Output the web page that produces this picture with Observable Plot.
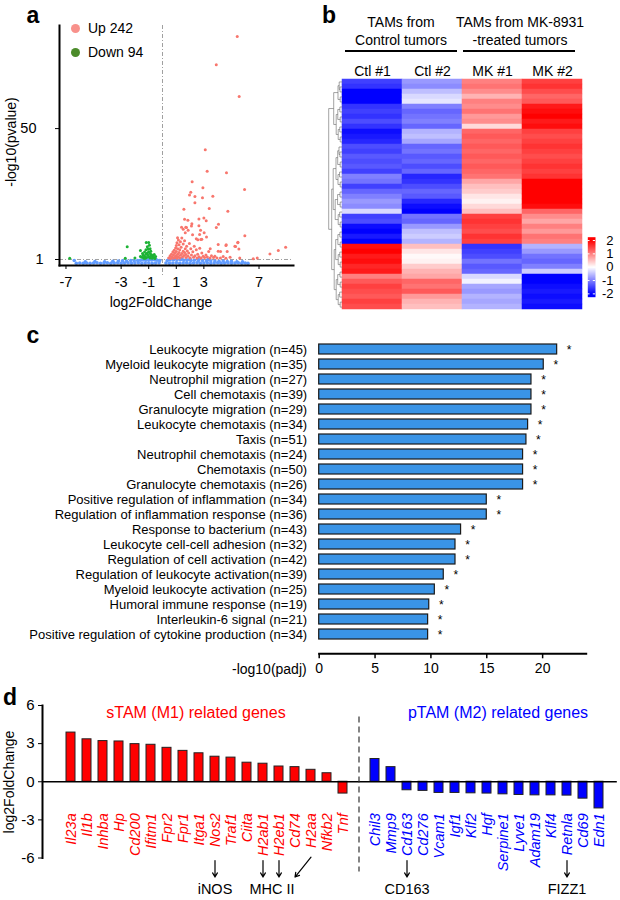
<!DOCTYPE html>
<html><head><meta charset="utf-8">
<script src="https://cdn.jsdelivr.net/npm/d3@7"></script>
<script src="https://cdn.jsdelivr.net/npm/@observablehq/plot@0.6"></script>
<style>
body{margin:0;background:#fff;}
#fig{position:relative;width:620px;height:900px;font-family:"Liberation Sans",Arial,Helvetica,sans-serif;color:#000;overflow:hidden;background:#fff}
#fig svg{position:absolute;overflow:visible}
.t{position:absolute;white-space:nowrap;line-height:1;}
</style></head><body><div id="fig"></div><script>
// ---------------- DATA ----------------
// panel a: volcano  [log2FoldChange, -log10(pvalue)]
const upGenes = [[5.42,84.5],[3.9,73.9],[5.56,62.0],[3.1,42.1],[3.24,34.0],[4.64,33.5],[2.15,30.1],[5.95,27.2],[2.93,27.9],[2.05,26.2],[1.96,25.1],[2.35,24.6],[3.65,24.7],[2.9,24.1],[2.35,22.2],[3.39,20.1],[4.74,19.1],[1.55,19.8],[1.6,16.1],[1.84,15.7],[2.64,16.2],[3.0,16.5],[3.17,15.5],[4.06,14.2],[3.9,13.0],[1.38,13.1],[1.74,13.0],[2.1,13.5],[2.64,13.6],[1.86,11.9],[1.65,11.0],[2.69,10.4],[2.18,10.3],[3.19,9.4],[2.45,8.8],[2.78,8.5],[5.97,9.9],[4.04,6.6],[4.62,6.5],[5.47,7.5],[5.25,6.0],[5.54,4.9],[4.21,4.0],[4.69,4.0],[8.93,5.6],[8.4,4.4],[7.79,3.1],[6.87,1.6],[6.58,1.3],
[1.09,9.1],[1.5,12.3],[1.69,13.1],[2.13,14.4],[2.76,11.9],[3.02,11.0],[2.56,8.4],[2.85,8.6],[3.46,5.0],[4.04,4.1],[4.6,6.2],[5.3,5.9],[5.46,7.3],
[0.45,1.6],[0.55,2.3],[0.6,1.4],[0.65,3.0],[0.7,2.0],[0.75,3.8],[0.8,1.5],[0.8,2.7],[0.85,4.5],[0.9,3.3],[0.9,1.8],[0.95,5.3],[1.0,2.4],[1.0,6.2],[1.0,4.0],[1.05,1.5],[1.05,7.3],[1.1,3.0],[1.1,5.0],[1.15,8.3],[1.15,2.0],[1.2,6.5],[1.2,3.6],[1.25,4.6],[1.25,1.6],[1.3,7.6],[1.3,2.6],[1.35,5.6],[1.4,3.2],[1.4,9.0],[1.45,1.9],[1.5,4.1],[1.5,6.8],[1.55,2.5],[1.6,3.6],[1.6,8.0],[1.65,5.0],[1.7,1.7],[1.7,2.9],[1.75,6.0],[1.8,4.2],[1.85,2.2],[1.9,3.4],[1.95,7.0],[2.0,1.6],[2.05,5.0],[2.1,2.7],[2.2,3.9],[2.25,1.8],[2.3,6.0],[2.35,2.4],[2.45,4.6],[2.5,1.6],[2.55,3.0],[2.65,2.0],[2.7,5.2],[2.8,1.6],[2.85,3.4],[2.95,2.2],[3.05,1.7],[3.15,2.7],[3.25,1.9],[3.35,4.0],[3.45,1.6],[3.55,2.4],[3.7,1.7],[3.8,2.2],[3.95,1.6],[4.2,1.6],[4.4,2.1],[4.6,1.5],[4.9,1.8],[5.6,1.6]];
const downGenes = [[-6.73,1.5],[-2.7,1.5],[-2.56,5.75],[-2.0,1.6],[-1.6,4.4],
[-1.18,7.4],[-1.0,7.4],[-1.1,5.8],[-0.95,6.3],[-1.3,3.8],[-1.2,4.6],[-1.05,4.9],[-0.9,5.0],[-0.85,4.1],[-1.4,2.6],[-1.3,2.2],[-1.2,3.0],[-1.1,3.4],[-1.0,3.9],[-0.9,3.2],[-0.8,2.8],[-0.7,2.4],[-0.65,1.8],[-0.6,2.9],[-1.5,1.8],[-1.45,3.2],[-1.35,1.5],[-1.15,1.7],[-1.0,2.0],[-0.9,1.6],[-0.75,1.5],[-0.55,1.4],[-1.05,2.6],[-0.85,2.3],[-1.25,1.5],[-1.6,2.1],[-0.5,2.1]];
const nsGenes = [[-6.4,0.6],[-6.25,-0.4],[-6.0,-0.3],[-5.75,-0.4],[-5.5,-0.3],[-5.25,-0.4],[-5.0,-0.3],[-4.75,-0.2],[-4.5,-0.4],[-4.25,-0.3],[-4.0,-0.2],[-3.75,-0.4],[-3.5,-0.3],[-3.25,-0.2],[-3.0,-0.4],[-2.75,-0.3],[-2.5,-0.2],[-2.25,-0.4],[-2.0,-0.3],[-1.75,-0.2],[-1.5,-0.4],[-1.25,-0.3],[-1.0,-0.2],[-0.75,-0.4],[-0.5,-0.3],[-0.25,-0.2],[0.25,-0.3],[0.5,-0.4],[0.75,-0.3],[1.0,-0.2],[1.25,-0.4],[1.5,-0.3],[1.75,-0.2],[2.0,-0.4],[2.25,-0.3],[2.5,-0.2],[2.75,-0.4],[3.0,-0.3],[3.25,-0.2],[3.5,-0.4],[3.75,-0.3],[4.0,-0.2],[4.25,-0.4],[4.5,-0.3],[4.75,-0.2],[5.0,-0.4],[5.25,-0.3],[5.5,-0.2],[5.75,-0.4],[6.0,-0.3],[6.2,-0.4],
[-5.6,0.1],[-4.9,0.2],[-4.2,0.1],[-3.6,0.3],[-3.2,0.4],[-2.9,0.5],[-2.6,0.4],[-2.3,0.6],[-2.05,0.5],[-1.8,0.6],[-1.6,0.7],[-1.4,0.8],[-1.2,0.7],[-1.0,0.9],[-0.8,0.8],[-0.6,0.9],[-0.4,0.7],[-0.2,0.6],[0.35,0.6],[0.55,0.8],[0.8,0.9],[1.05,0.8],[1.3,0.9],[1.55,0.7],[1.8,0.8],[2.05,0.6],[2.3,0.7],[2.6,0.5],[2.9,0.6],[3.2,0.4],[3.5,0.5],[3.8,0.4],[4.1,0.3],[4.4,0.4],[4.7,0.2],[5.0,0.3],[5.4,0.1],[5.8,0.1],
[-1.3,1.3],[-0.9,1.4],[-0.5,1.2],[0.5,1.3],[0.9,1.4],[1.4,1.3],[2.0,1.2],[2.6,1.1],[3.3,1.0]];
const volcanoXTicks = [-7,-3,-1,1,3,7];
const volcanoYTicks = [1,50];
const legendA = [{label:"Up 242", color:"#F8918B"},{label:"Down 94", color:"#4C8C2B"}];

// panel b: heatmap (row-scaled expression), rows top to bottom
const samples = ["Ctl #1","Ctl #2","MK #1","MK #2"];
const ctl1 = [-1.5,-1.6,-2.0,-2.1,-2.0,-1.6,-1.5,-1.6,-1.4,-1.6,-1.9,-1.8,-1.7,-1.4,-1.5,-1.3,-1.4,-1.3,-1.5,-1.0,-1.1,-1.5,-1.2,-1.0,-0.8,-0.9,-0.3,-1.5,-1.4,-1.9,-2.1,-1.8,-2.1, 1.9,2.0,1.8,1.9,1.7,1.8,1.0,1.3,1.5,1.4,1.3,1.5,1.4];
const ctl2 = [-0.8,-0.9,-0.5,-0.3,-0.2,-1.0,-1.2,-1.1,-1.0,-1.2,-0.6,-0.5,-0.7,-1.2,-1.1,-1.3,-1.2,-1.4,-1.2,-1.7,-1.6,-1.4,-1.2,-1.3,-1.7,-1.9,-2.1,-1.1,-1.2,-0.8,-0.5,-0.4,-0.6, 0.5,0.2,0.05,0.1,0.4,0.6,0.7,1.2,1.1,1.3,0.8,0.6,0.5];
const mk1 = [1.0,1.1,0.9,0.6,1.0,0.9,1.1,0.8,0.9,0.3,1.2,1.3,1.2,1.3,1.2,1.3,1.2,1.3,1.2,1.1,0.7,0.5,0.4,0.2,0.1,0.3,0.5,1.5,1.6,1.5,1.4,1.6,1.5, -1.6,-1.5,-1.4,-1.1,-1.3,-1.2,-0.3,-0.1,-0.7,-0.8,-0.6,-0.7,-0.6];
const mk2 = [1.5,1.6,1.4,1.2,1.3,1.8,1.9,2.0,1.8,1.9,1.5,1.4,1.5,1.6,1.5,1.4,1.5,1.6,1.5,1.6,2.0,2.1,2.0,2.1,2.0,1.9,1.2,0.9,0.7,1.0,0.8,1.1,1.0, -0.6,-0.8,-1.1,-1.2,-1.0,-0.4,-2.0,-2.1,-1.9,-1.8,-1.9,-1.8,-1.9];
// dendrogram merges: [childA, childB, height]; leaves 0..45, merges numbered from 46
const dendroMerges = [[0,1,2],[2,3,2.5],[4,5,2],[6,7,2.2],[8,9,2],[10,11,2.4],[12,13,2],[14,15,2.3],[16,17,2],[18,19,2.5],[20,21,2],[22,23,2.2],[24,25,2],[26,27,2.6],[28,29,2],[30,31,2.3],[32,61,3.2],
[33,34,2],[35,36,2.4],[37,38,2],[39,40,2.3],[41,42,2],[43,44,2.2],[45,68,3],
[46,47,4],[48,49,4.5],[50,51,4],[52,53,4.3],[54,55,4],[56,57,4.6],[58,59,4.2],[60,62,4.5],[63,64,4],[65,66,4.4],[67,69,4.2],
[70,71,6],[72,73,6.5],[74,75,7],[76,77,6.2],[78,79,6],
[81,82,8],[83,84,9],[85,80,8.5],[86,87,10.5],[89,88,13.5]];
const heatLegendTicks = [-2,-1,0,1,2];

// panel c: GO enrichment
const goTerms = ["Leukocyte migration (n=45)","Myeloid leukocyte migration (n=35)","Neutrophil migration (n=27)","Cell chemotaxis (n=39)","Granulocyte migration (n=29)","Leukocyte chemotaxis (n=34)","Taxis (n=51)","Neutrophil chemotaxis (n=24)","Chemotaxis (n=50)","Granulocyte chemotaxis (n=26)","Positive regulation of inflammation (n=34)","Regulation of inflammation response (n=36)","Response to bacterium (n=43)","Leukocyte cell-cell adhesion (n=32)","Regulation of cell activation (n=42)","Regulation of leukocyte activation(n=39)","Myeloid leukocyte activation (n=25)","Humoral immune response (n=19)","Interleukin-6 signal (n=21)","Positive regulation of cytokine production (n=34)"];
const goPadj = [21.3,20.1,19.0,19.0,19.0,18.7,18.55,18.25,18.25,18.25,15.0,15.0,12.7,12.2,12.2,11.15,10.35,9.85,9.75,9.75];
const goTicks = [0,5,10,15,20];

// panel d: marker genes
const m1Genes = ["Il23a","Il1b","Inhba","Hp","Cd200","Ifitm1","Fpr2","Fpr1","Itga1","Nos2","Traf1","Ciita","H2ab1","H2eb1","Cd74","H2aa","Nfkb2","Tnf"];
const m1LFC = [3.87,3.34,3.2,3.17,2.96,2.91,2.67,2.43,2.24,1.97,1.9,1.5,1.42,1.2,1.15,0.94,0.67,-0.93];
const m2Genes = ["Chil3","Mmp9","Cd163","Cd276","Vcam1","Igf1","Klf2","Hgf","Serpine1","Lyve1","Adam19","Klf4","Retnla","Cd69","Edn1"];
const m2LFC = [1.79,1.15,-0.67,-0.72,-0.88,-0.88,-0.91,-0.93,-0.99,-1.04,-1.07,-1.07,-1.09,-1.33,-2.1];
const lfcTicks = [-6,-3,0,3,6];
const markerNotes = [{from:"Nos2",to:"Nos2"},{from:"H2ab1",to:"H2ab1"},{from:"H2eb1",to:"H2eb1"},{from:"H2aa",to:"Cd74",diag:true},{from:"Cd163",to:"Cd163"},{from:"Retnla",to:"Retnla"}];
const markerLabels = [{gene:"Nos2",label:"iNOS"},{gene:"Cd163",label:"CD163"},{gene:"Retnla",label:"FIZZ1"}];
const mhcLabel = [{gene:"H2ab1",label:"MHC II"}];

// ---------------- HELPERS ----------------
const FONT = '"Liberation Sans", Arial, Helvetica, sans-serif';
const fig = document.getElementById("fig");
const baseStyle = {fontFamily: FONT, fontSize: "14px", color: "#000", background: "transparent", overflow: "visible"};
function put(node, left, top) { node.style.left = left + "px"; node.style.top = top + "px"; fig.appendChild(node); }
function label(text, x, y, o = {}) {
  const d = document.createElement("div");
  d.className = "t"; d.textContent = text;
  d.style.fontSize = (o.size || 14) + "px";
  if (o.bold) d.style.fontWeight = "bold";
  if (o.color) d.style.color = o.color;
  const ax = o.anchor === "start" ? "0%" : o.anchor === "end" ? "-100%" : "-50%";
  d.style.left = x + "px"; d.style.top = y + "px";
  d.style.transform = `translate(${ax},-50%)` + (o.rotate ? ` rotate(${o.rotate}deg)` : "");
  fig.appendChild(d);
}
function hline(x1, x2, y, w) {
  const d = document.createElement("div");
  d.style.cssText = `position:absolute;left:${x1}px;top:${y - w/2}px;width:${x2 - x1}px;height:${w}px;background:#000`;
  fig.appendChild(d);
}
const fmt = d => String(d);

// ---------------- PANEL A ----------------
const xa = d => d[0], ya = d => d[1];
const pa = Plot.plot({
  width: 300, height: 275, marginLeft: 59, marginRight: 7, marginTop: 25, marginBottom: 10,
  style: baseStyle,
  x: {domain: [-7.47, 9.5]},
  y: {domain: [-1.25, 88.6]},
  marks: [
    Plot.ruleX([0], {stroke: "#a0a0a0", strokeDasharray: "4,2,1,2", insetBottom: -12}),
    Plot.ruleY([1], {stroke: "#a0a0a0", strokeDasharray: "4,2,1,2"}),
    Plot.dot(nsGenes, {x: xa, y: ya, r: 1.8, fill: "#619CFF"}),
    Plot.dot(downGenes, {x: xa, y: ya, r: 1.5, fill: "#1DB335"}),
    Plot.dot(upGenes, {x: xa, y: ya, r: 1.5, fill: "#F8766D"}),
    Plot.frame({anchor: "left", strokeWidth: 2}),
    Plot.frame({anchor: "bottom", strokeWidth: 2}),
    Plot.axisX({ticks: volcanoXTicks, tickSize: 4, tickPadding: 7, tickFormat: fmt, label: null, fontSize: 14.5}),
    Plot.axisY({ticks: [volcanoYTicks[1]], tickSize: 4, tickPadding: 19, tickFormat: fmt, label: null, fontSize: 14.5}),
    Plot.axisY({ticks: [volcanoYTicks[0]], tickSize: 4, tickPadding: 12, tickFormat: fmt, label: null, fontSize: 14.5})
  ]
});
put(pa, 0, 0);
legendA.forEach((l, i) => {
  const c = document.createElement("div");
  c.style.cssText = `position:absolute;left:${75 - 4.5}px;top:${28 + i*24 - 4.5}px;width:9px;height:9px;border-radius:50%;background:${l.color}`;
  fig.appendChild(c);
  label(l.label, 88, 28 + i*24, {anchor: "start", size: 14});
});
label("-log10(pvalue)", 11, 142, {rotate: -90, size: 14});
label("log2FoldChange", 161, 302, {size: 14});
label("a", 33, 15, {bold: true, size: 23});

// ---------------- PANEL B ----------------
const heatCols = [ctl1, ctl2, mk1, mk2];
const rowIds = ctl1.map((_, i) => i);
const heatData = samples.flatMap((s, j) => heatCols[j].map((v, i) => ({sample: s, row: i, v})));
const heatColor = {type: "linear", domain: [-2, 0, 2], range: ["#0000ff", "#ffffff", "#ff0000"], clamp: true};
const pb = Plot.plot({
  width: 320, height: 320, marginLeft: 41.7, marginRight: 38.3, marginTop: 79, marginBottom: 10.7,
  style: baseStyle,
  x: {domain: samples, padding: 0, axis: null},
  y: {domain: rowIds, padding: 0, axis: null},
  color: heatColor,
  marks: [
    Plot.cell(heatData, {x: "sample", y: "row", fill: "v", stroke: "v", strokeWidth: 0.5, inset: 0}),
    Plot.text(samples, {x: d => d, frameAnchor: "top", dy: -13.5, fontSize: 14})
  ]
});
put(pb, 300, 0);

// dendrogram
const nodeY = ctl1.map((_, i) => i + 0.5), nodeH = ctl1.map(() => 0);
const segs = [];
for (const [a, b, h] of dendroMerges) {
  segs.push({x1: nodeH[a], x2: h, y1: nodeY[a], y2: nodeY[a]});
  segs.push({x1: nodeH[b], x2: h, y1: nodeY[b], y2: nodeY[b]});
  segs.push({x1: h, x2: h, y1: nodeY[a], y2: nodeY[b]});
  nodeY.push((nodeY[a] + nodeY[b]) / 2); nodeH.push(h);
}
const pdend = Plot.plot({
  width: 21.7, height: 320, marginLeft: 0, marginRight: 0, marginTop: 79, marginBottom: 10.7,
  style: baseStyle,
  x: {domain: [0, 21.7], reverse: true, axis: null},
  y: {domain: [0, ctl1.length], axis: null},
  marks: [Plot.link(segs, {x1: "x1", x2: "x2", y1: "y1", y2: "y2", stroke: "#666", strokeWidth: 0.6})]
});
put(pdend, 320, 0);

// color bar
const pleg = Plot.plot({
  width: 40, height: 80, marginLeft: 7.3, marginRight: 25, marginTop: 6.7, marginBottom: 13.3,
  style: baseStyle,
  x: {domain: [0, 1], axis: null},
  y: {domain: [-2.25, 2.25], axis: null},
  color: heatColor,
  marks: [
    Plot.raster({x1: 0, x2: 1, y1: -2.25, y2: 2.25, width: 1, height: 90, fill: (x, y) => y, imageRendering: "auto"}),
    Plot.tickY(heatLegendTicks, {y: d => d, stroke: "#fff", insetRight: 5.5}),
    Plot.tickY(heatLegendTicks, {y: d => d, stroke: "#fff", insetLeft: 5.5}),
    Plot.axisY({anchor: "right", ticks: heatLegendTicks, tickSize: 0, tickPadding: 18, textAnchor: "end", tickFormat: fmt, label: null, fontSize: 13})
  ]
});
put(pleg, 580, 230);

label("TAMs from", 401, 22); label("Control tumors", 401, 39.5);
label("TAMs from MK-8931", 520, 22); label("-treated tumors", 520, 39.5);
hline(345, 457, 51, 1.5); hline(463, 575, 51, 1.5);
label("b", 329, 15, {bold: true, size: 23});

// ---------------- PANEL C ----------------
const goData = goTerms.map((t, i) => ({term: t, v: goPadj[i]}));
const pc = Plot.plot({
  width: 620, height: 365, marginLeft: 318.7, marginRight: 34.3, marginTop: 14.5, marginBottom: 31.7, insetBottom: 5.2,
  style: baseStyle,
  x: {domain: [0, 23.9]},
  y: {domain: goTerms, paddingInner: 0.32, paddingOuter: 0.16},
  marks: [
    Plot.barX(goData, {x: "v", y: "term", fill: "#3A94E6", stroke: "#1a1a1a", strokeWidth: 1.2}),
    Plot.text(goData, {x: "v", y: "term", text: () => "*", dx: 12, dy: 1, fontSize: 12}),
    Plot.frame({anchor: "bottom", strokeWidth: 2}),
    Plot.axisX({ticks: goTicks, tickSize: 5, tickPadding: 4, tickFormat: fmt, label: null, fontSize: 14, strokeWidth: 1.5}),
    Plot.axisY({tickSize: 0, tickPadding: 12, label: null, fontSize: 13})
  ]
});
put(pc, 0, 320);
label("-log10(padj)", 306.7, 669, {anchor: "end", size: 14});
label("c", 33, 335, {bold: true, size: 23});

// ---------------- PANEL D ----------------
const bars = [
  ...m1Genes.map((g, i) => ({gene: g, lfc: m1LFC[i], color: "#ff0000"})),
  ...m2Genes.map((g, i) => ({gene: g, lfc: m2LFC[i], color: "#0000ff"}))
];
const xDomainD = [...m1Genes, "gap", ...m2Genes];
const pd = Plot.plot({
  width: 620, height: 210, marginLeft: 42, marginRight: 3.2, marginTop: 15, marginBottom: 42.5, insetLeft: 10,
  style: baseStyle,
  x: {domain: xDomainD, paddingInner: 0.45, paddingOuter: 0.225, axis: null},
  y: {domain: [-6, 6]},
  marks: [
    Plot.barY(bars, {x: "gene", y: "lfc", fill: d => d.color, stroke: "#222", strokeWidth: 1}),
    Plot.ruleY([0], {strokeWidth: 1.6}),
    Plot.ruleX(["gap"], {y1: 5.1, y2: -7.1, stroke: "#333", strokeWidth: 1.2, strokeDasharray: "6,4"}),
    Plot.text(bars, {x: "gene", y: 0, text: "gene", rotate: -90, textAnchor: "end", dy: 31.5, fill: d => d.color, fontStyle: "italic", fontSize: 14.5}),
    Plot.arrow(markerNotes, {x1: "from", x2: "to", y1: d => d.diag ? -5.94 : -6.2, y2: -7.5, headLength: 6, strokeWidth: 1.2, stroke: "#000"}),
    Plot.text(markerLabels, {x: "gene", y: -8.5, text: "label", fontSize: 14.5}),
    Plot.text(mhcLabel, {x: "gene", y: -8.5, text: "label", dx: 9, fontSize: 14.5}),
    Plot.frame({anchor: "left", strokeWidth: 2}),
    Plot.axisY({ticks: lfcTicks, tickSize: 4, tickPadding: 4, tickFormat: fmt, label: null, fontSize: 15})
  ]
});
put(pd, 0, 690);
label("sTAM (M1) related genes", 196, 713, {size: 16, color: "#ff0000"});
label("pTAM (M2) related genes", 498, 713, {size: 16, color: "#0000ff"});
label("log2FoldChange", 9, 782, {rotate: -90, size: 14});
label("d", 10, 697, {bold: true, size: 23});
</script></body></html>
